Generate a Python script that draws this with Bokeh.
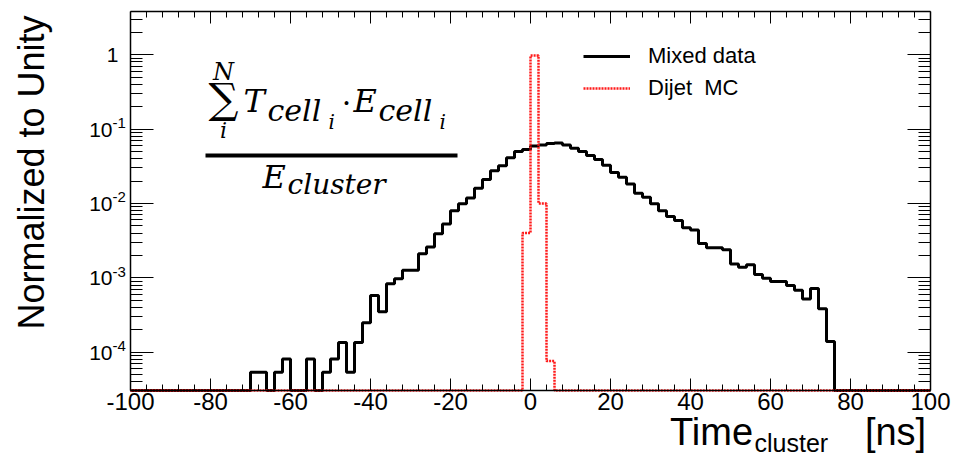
import math
from bokeh.plotting import figure
from bokeh.models import (Range1d, LogAxis, LinearAxis, FixedTicker, Label, Legend, LegendItem,
                          CustomJSTickFormatter, BoxAnnotation)
from bokeh.embed import file_html
from bokeh.resources import INLINE

# ---------------- data ----------------
bin_width = 2.0
x_min, x_max = -100, 100
y_min, y_max = 3.06e-5, 3.8

mixed_first_bin = -70  # left edge of first listed bin
mixed_data = [
    5.4e-5, 5.4e-5, 0, 5.4e-5, 8.1e-5, 0, 0, 8.1e-5, 0, 5.4e-5,        # -70 .. -52
    8.1e-5, 1.35e-4, 5.4e-5, 1.35e-4, 2.5e-4, 5.8e-4, 3.5e-4, 8.3e-4,  # -50 .. -36
    9.7e-4, 1.26e-3, 1.26e-3, 2.1e-3, 2.6e-3, 3.9e-3, 5.3e-3, 8.0e-3,  # -34 .. -20
    9.9e-3, 1.18e-2, 1.6e-2, 2.1e-2, 2.75e-2, 3.2e-2, 4.1e-2, 5.0e-2,  # -18 .. -4
    5.3e-2, 5.9e-2, 6.1e-2, 6.4e-2, 6.5e-2, 6.1e-2, 5.5e-2, 5.0e-2,    # -2 .. 12
    4.4e-2, 3.9e-2, 3.25e-2, 2.6e-2, 2.25e-2, 1.83e-2, 1.37e-2, 1.21e-2,  # 14 .. 28
    9.9e-3, 8.0e-3, 6.7e-3, 5.9e-3, 4.7e-3, 4.4e-3, 2.9e-3, 2.53e-3,   # 30 .. 44
    2.53e-3, 2.38e-3, 1.54e-3, 1.39e-3, 1.5e-3, 1.11e-3, 9.9e-4, 8.9e-4,  # 46 .. 60
    8.9e-4, 7.9e-4, 6.8e-4, 5.2e-4, 7.2e-4, 3.83e-4, 1.39e-4,          # 62 .. 74
]
dijet_first_bin = -2
dijet_mc = [4.0e-3, 0.97, 1.0e-2, 7.6e-5]

series_labels = ["Mixed data", "Dijet  MC"]
x_major_ticks = [-100, -80, -60, -40, -20, 0, 20, 40, 60, 80, 100]
x_minor_step = 4
y_decades = [-4, -3, -2, -1, 0]

# ---------------- layout ----------------
W, H = 953, 458
FL, FR, FT, FB = 130, 930, 11, 390          # pixel box of the data window
LOG_TOP, LOG_BOT = math.log10(y_max), math.log10(y_min)
ppx = (FR - FL) / (x_max - x_min)           # pixels per ns
ppd = (FB - FT) / (LOG_TOP - LOG_BOT)       # pixels per decade
cx_lo, cx_hi = x_min - FL / ppx, x_min + (W - FL) / ppx
cy_hi, cy_lo = LOG_TOP + FT / ppd, LOG_TOP - (H - FT) / ppd


def px_x(px):
    return cx_lo + px / ppx


def px_y(py):
    return 10 ** (cy_hi - py / ppd)


def y_px(val):
    return (cy_hi - math.log10(val)) * ppd


n_bins = int(round((x_max - x_min) / bin_width))
edges = [x_min + i * bin_width for i in range(n_bins + 1)]


def full_hist(first_edge, vals):
    h = [0.0] * n_bins
    k0 = int(round((first_edge - x_min) / bin_width))
    for i, v in enumerate(vals):
        h[k0 + i] = v
    return [v if v > 0 else y_min for v in h]


mixed_full = full_hist(mixed_first_bin, mixed_data)
dijet_full = full_hist(dijet_first_bin, dijet_mc)

p = figure(width=W, height=H, title=None,
           x_range=Range1d(cx_lo, cx_hi), y_range=Range1d(10 ** cy_lo, 10 ** cy_hi),
           y_axis_type="log", x_axis_location=None, y_axis_location=None,
           output_backend="svg", toolbar_location=None,
           min_border_left=0, min_border_right=0, min_border_top=0, min_border_bottom=0)
p.grid.visible = False
p.outline_line_color = None
p.background_fill_color = "white"
p.border_fill_color = "white"

blank = CustomJSTickFormatter(code="return ''")
hyphen = CustomJSTickFormatter(code="return tick.toFixed(0)")

x_minor = [t for t in range(x_min, x_max + 1, x_minor_step) if t not in x_major_ticks]
y_major = [10.0 ** k for k in y_decades]
y_minor = [m * 10.0 ** k for k in range(-5, 1) for m in range(2, 10)
           if y_min < m * 10.0 ** k < y_max]


def x_axis(loc, fixed, labels):
    ax = LinearAxis(ticker=FixedTicker(ticks=x_major_ticks, minor_ticks=x_minor),
                    fixed_location=fixed, bounds=(x_min, x_max),
                    major_tick_in=12, major_tick_out=0, minor_tick_in=6, minor_tick_out=0,
                    axis_line_width=1.5, axis_line_color="black",
                    major_tick_line_color="black", minor_tick_line_color="black")
    if labels:
        ax.formatter = hyphen
        ax.major_label_text_font = "Liberation Sans"
        ax.major_label_text_font_size = "24px"
        ax.major_label_text_color = "black"
        ax.major_label_standoff = 2
    else:
        ax.formatter = blank
        ax.major_label_text_font_size = "0px"
    p.add_layout(ax, loc)


def y_axis(loc, fixed):
    ax = LogAxis(ticker=FixedTicker(ticks=y_major, minor_ticks=y_minor),
                 fixed_location=fixed, bounds=(y_min, y_max), formatter=blank,
                 major_label_text_font_size="0px",
                 major_tick_in=23, major_tick_out=0, minor_tick_in=12, minor_tick_out=0,
                 axis_line_width=1.5, axis_line_color="black",
                 major_tick_line_color="black", minor_tick_line_color="black")
    p.add_layout(ax, loc)


x_axis("below", y_min, True)
x_axis("above", y_max, False)
y_axis("left", x_min)
y_axis("right", x_max)

# histograms
r1 = p.step(edges, mixed_full + [mixed_full[-1]], mode="after",
            line_color="black", line_width=3)
r2 = p.step(edges, dijet_full + [dijet_full[-1]], mode="after",
            line_color="#ff1a1a", line_width=2.5, line_dash="2 1")

legend = Legend(items=[LegendItem(label=series_labels[0], renderers=[r1]),
                       LegendItem(label=series_labels[1], renderers=[r2])],
                location=(583, H - 43 - 58), glyph_width=47, glyph_height=26, label_height=26,
                label_standoff=18, spacing=6, padding=0, margin=0,
                border_line_color=None, background_fill_alpha=0,
                label_text_font="Liberation Sans", label_text_font_size="22px",
                label_text_color="black")
p.add_layout(legend)


def lab(px, base_py, text, size, font="Liberation Sans", style="normal", align="left",
        angle=0):
    """Place text whose alphabetic baseline is at pixel row base_py."""
    mid = base_py - 0.35 * size
    p.add_layout(Label(x=px_x(px), y=px_y(mid), text=text, text_font=font,
                       text_font_size=f"{size}px", text_font_style=style,
                       text_align=align, text_baseline="middle", angle=angle,
                       text_color="black"))


# y tick labels
for k in y_decades:
    ty = y_px(10.0 ** k)
    if k == 0:
        lab(118, ty + 8, "1", 21, align="right")
    else:
        lab(112, ty + 8, "10", 21, align="right")
        lab(112, ty - 1, str(k), 15, align="left")

# axis titles
p.add_layout(Label(x=px_x(31), y=px_y(15), text="Normalized to Unity",
                   text_font="Liberation Sans", text_font_size="36px",
                   text_align="right", text_baseline="middle", angle=math.pi / 2,
                   text_color="black"))
lab(711, 445, "Time", 38, align="center")
lab(754, 451, "cluster", 25, align="left")
lab(895, 445, "[ns]", 38, align="center")

# formula
SERIF = "DejaVu Serif"
lab(223, 80, "N", 24, SERIF, "italic", "center")
lab(223, 113, "\u2211", 42, SERIF, "normal", "center")
lab(223, 138, "i", 22, SERIF, "italic", "center")
lab(243, 112, "T", 32, SERIF, "italic", "left")
lab(267, 120, "cell", 30, SERIF, "italic", "left")
lab(328, 128, "i", 20, SERIF, "italic", "left")
lab(346, 112, "\u00b7", 30, SERIF, "normal", "center")
lab(353, 112, "E", 32, SERIF, "italic", "left")
lab(378, 120, "cell", 30, SERIF, "italic", "left")
lab(439, 128, "i", 20, SERIF, "italic", "left")
lab(262, 188, "E", 32, SERIF, "italic", "left")
lab(287, 194, "cluster", 28, SERIF, "italic", "left")
p.add_layout(BoxAnnotation(left=px_x(205), right=px_x(457), top=px_y(153), bottom=px_y(157),
                           fill_color="black", fill_alpha=1, line_color=None))

open("out.html", "w").write(file_html(p, INLINE))
